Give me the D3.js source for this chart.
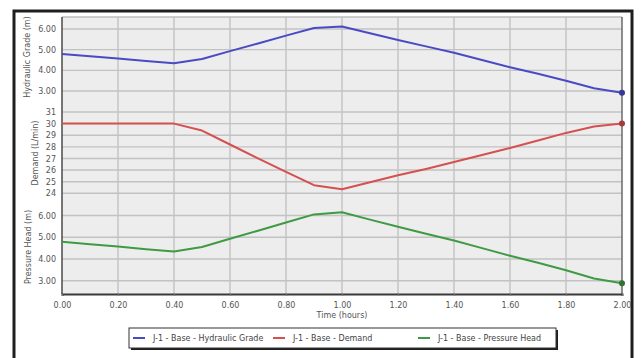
<!DOCTYPE html>
<html>
<head>
<meta charset="utf-8">
<script src="https://cdn.jsdelivr.net/npm/d3@7"></script>
<style>
  html, body { margin: 0; padding: 0; background: #fff; }
  svg { display: block; font-family: "DejaVu Sans", Verdana, sans-serif; }
</style>
</head>
<body>
<svg id="chart" width="641" height="358"></svg>
<script>
// Time axis (hours)
const times = [0.0, 0.1, 0.2, 0.3, 0.4, 0.5, 0.6, 0.7, 0.8, 0.9, 1.0,
               1.1, 1.2, 1.3, 1.4, 1.5, 1.6, 1.7, 1.8, 1.9, 2.0];
const xTicks = [0.0, 0.2, 0.4, 0.6, 0.8, 1.0, 1.2, 1.4, 1.6, 1.8, 2.0];

// J-1 results
const hydraulicGrade = [4.79, 4.68, 4.57, 4.45, 4.34, 4.55, 4.93, 5.30, 5.68, 6.05, 6.12,
                        5.79, 5.47, 5.16, 4.85, 4.50, 4.15, 3.83, 3.50, 3.13, 2.92];
const demand = [30.0, 30.0, 30.0, 30.0, 30.0, 29.4, 28.2, 27.0, 25.85, 24.7, 24.35,
                24.95, 25.55, 26.1, 26.7, 27.3, 27.9, 28.55, 29.2, 29.75, 30.0];
const pressureHead = [4.79, 4.68, 4.57, 4.45, 4.34, 4.55, 4.93, 5.30, 5.68, 6.05, 6.15,
                      5.81, 5.48, 5.16, 4.85, 4.50, 4.15, 3.83, 3.48, 3.10, 2.88];

const hgTicks = [3, 4, 5, 6];
const demandTicks = [24, 25, 26, 27, 28, 29, 30, 31];
const phTicks = [3, 4, 5, 6];

const seriesNames = ["J-1 - Base - Hydraulic Grade", "J-1 - Base - Demand", "J-1 - Base - Pressure Head"];
const seriesColors = ["#4a4ac4", "#d6504f", "#3f9a44"];

const svg = d3.select("#chart");

// Outer frame
svg.append("rect").attr("x", 14).attr("y", 11).attr("width", 618).attr("height", 360)
  .attr("fill", "#fff").attr("stroke", "#1e1e1e").attr("stroke-width", 3);

const plot = { left: 62, right: 622, top: 17, bottom: 294 };

const x = d3.scaleLinear().domain([0, 2]).range([plot.left, plot.right]);
const yHG = d3.scaleLinear().domain([3, 6]).range([91, 29]);
const yDemand = d3.scaleLinear().domain([24, 31]).range([193.3, 112]);
const yPH = d3.scaleLinear().domain([3, 6]).range([280.7, 215.5]);

// Plot background
svg.append("rect").attr("x", plot.left).attr("y", plot.top)
  .attr("width", plot.right - plot.left).attr("height", plot.bottom - plot.top)
  .attr("fill", "#ededed");

const grid = svg.append("g").attr("stroke", "#c2c2c2").attr("stroke-width", 1.4);
// vertical grid
grid.selectAll("line.v").data(xTicks.slice(1, -1)).join("line")
  .attr("x1", d => x(d)).attr("x2", d => x(d))
  .attr("y1", plot.top).attr("y2", plot.bottom);
// horizontal grids for each stacked scale
[[yHG, hgTicks], [yDemand, demandTicks], [yPH, phTicks]].forEach(([s, t]) => {
  grid.append("g").selectAll("line").data(t).join("line")
    .attr("x1", plot.left).attr("x2", plot.right)
    .attr("y1", d => s(d)).attr("y2", d => s(d));
});

// Plot border
svg.append("line").attr("x1", plot.left).attr("x2", plot.right).attr("y1", plot.top).attr("y2", plot.top)
  .attr("stroke", "#bdbdbd").attr("stroke-width", 1.5);
svg.append("line").attr("x1", plot.right).attr("x2", plot.right).attr("y1", plot.top).attr("y2", plot.bottom)
  .attr("stroke", "#6a6a6a").attr("stroke-width", 1.5);

// Y axes (stacked)
function yAxis(scale, ticks, fmt) {
  const g = svg.append("g").attr("transform", `translate(${plot.left},0)`)
    .call(d3.axisLeft(scale).tickValues(ticks).tickFormat(fmt).tickSize(0).tickPadding(6));
  g.select(".domain").remove();
  g.selectAll("text").attr("fill", "#555").style("font-size", "8px")
    .style("font-family", "'DejaVu Sans', Verdana, sans-serif");
}
yAxis(yHG, hgTicks, d3.format(".2f"));
yAxis(yDemand, demandTicks, d3.format("d"));
yAxis(yPH, phTicks, d3.format(".2f"));

// Left axis line
svg.append("line").attr("x1", plot.left).attr("x2", plot.left).attr("y1", plot.top).attr("y2", plot.bottom)
  .attr("stroke", "#4a4a4a").attr("stroke-width", 1.5);

// X axis
const xa = svg.append("g").attr("transform", `translate(0,${plot.bottom})`)
  .call(d3.axisBottom(x).tickValues(xTicks).tickFormat(d3.format(".2f")).tickSize(2).tickPadding(6));
xa.select(".domain").attr("stroke", "#3a3a3a").attr("stroke-width", 2);
xa.selectAll(".tick line").attr("stroke", "#777");
xa.selectAll("text").attr("fill", "#555").style("font-size", "8px")
  .style("font-family", "'DejaVu Sans', Verdana, sans-serif");

svg.append("text").attr("x", x(1)).attr("y", 318).attr("text-anchor", "middle")
  .attr("fill", "#555").style("font-size", "8px").text("Time (hours)");

// Y axis titles
function yTitle(text, cx, cy) {
  svg.append("text").attr("transform", `translate(${cx},${cy}) rotate(-90)`)
    .attr("text-anchor", "middle").attr("fill", "#555").style("font-size", "8px").text(text);
}
yTitle("Hydraulic Grade (m)", 30, 57);
yTitle("Demand (L/min)", 38, 153);
yTitle("Pressure Head (m)", 31, 247);

// Series
const scales = [yHG, yDemand, yPH];
const values = [hydraulicGrade, demand, pressureHead];
values.forEach((vals, i) => {
  const s = scales[i];
  const line = d3.line().x((d, j) => x(times[j])).y(d => s(d));
  svg.append("path").datum(vals).attr("d", line)
    .attr("fill", "none").attr("stroke", seriesColors[i]).attr("stroke-width", 2)
    .attr("stroke-linejoin", "round");
  const last = vals.length - 1;
  svg.append("circle").attr("cx", x(times[last])).attr("cy", s(vals[last])).attr("r", 3)
    .attr("fill", d3.color(seriesColors[i]).darker(0.8));
});

// Legend
const lg = svg.append("g");
lg.append("rect").attr("x", 131).attr("y", 330).attr("width", 427).attr("height", 20).attr("fill", "#1e1e1e");
lg.append("rect").attr("x", 129).attr("y", 328).attr("width", 427).attr("height", 20)
  .attr("fill", "#fff").attr("stroke", "#333").attr("stroke-width", 1);
const legendX = [133, 273, 418];
seriesNames.forEach((name, i) => {
  lg.append("line").attr("x1", legendX[i]).attr("x2", legendX[i] + 12)
    .attr("y1", 338).attr("y2", 338).attr("stroke", seriesColors[i]).attr("stroke-width", 2);
  lg.append("text").attr("x", legendX[i] + 20).attr("y", 341)
    .attr("fill", "#444").style("font-size", "8px").text(name);
});
</script>
</body>
</html>
